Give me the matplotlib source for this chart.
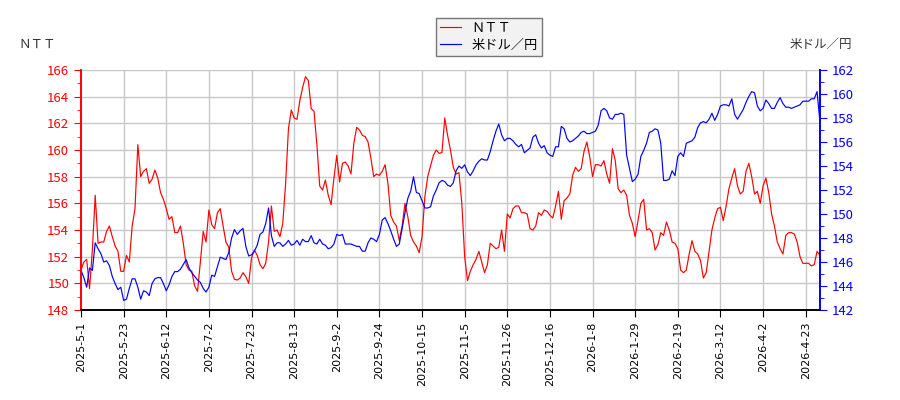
import matplotlib
matplotlib.use('Agg')
import matplotlib.pyplot as plt
from matplotlib.ticker import MultipleLocator

plt.rcParams['font.family'] = ['Noto Sans CJK JP', 'DejaVu Sans']

# daily closes, one per trading day
ntt = [151.0, 151.6, 151.8, 149.6, 152.5, 156.6, 153.0, 153.1, 153.1, 153.9,
       154.3, 153.5, 152.8, 152.4, 150.9, 150.9, 152.1, 151.6, 154.3, 155.6,
       160.4, 158.0, 158.4, 158.6, 157.5, 157.8, 158.5, 157.9, 156.8, 156.3,
       155.6, 154.8, 155.0, 153.8, 153.8, 154.3, 153.0, 151.4, 151.0, 150.9,
       149.8, 149.4, 151.6, 153.9, 153.1, 155.5, 154.4, 154.1, 155.3, 155.6,
       154.3, 153.1, 152.7,
       150.9, 150.3, 150.25, 150.4, 150.8, 150.5, 150.0, 151.9, 152.5, 152.1,
       151.4, 151.1, 151.5, 153.1, 155.8, 153.9, 154.0, 153.5, 154.5, 157.5,
       161.6, 163.0, 162.4, 162.3, 163.7, 164.7, 165.5, 165.2, 163.1, 162.9,
       160.4, 157.3, 157.0, 157.75, 156.6, 155.9, 157.9, 159.6, 157.6, 159.0,
       159.1, 158.8, 158.2, 160.5, 161.7, 161.5, 161.1, 161.0, 160.6, 159.4,
       158.0,
       158.2, 158.1, 158.4, 158.9, 157.5, 155.1, 154.6, 154.3, 153.2, 154.3,
       156.0, 155.0, 153.6, 153.1, 152.8, 152.3, 153.5, 156.5, 158.0, 158.8,
       159.6, 160.0, 159.75, 159.8, 162.4, 161.1, 160.0, 158.7, 158.2, 158.3,
       156.0, 152.0, 150.2, 150.9, 151.4, 151.8, 152.4, 151.6, 150.8, 151.4,
       153.0, 152.8, 152.6, 152.7, 154.0, 152.4, 155.2, 154.9, 155.6, 155.8,
       155.8, 155.3,
       155.3, 155.2, 154.1, 154.0, 154.3, 155.3, 155.1, 155.5, 155.4, 155.1,
       154.9, 155.8, 156.9, 154.8, 156.2, 156.4, 156.7, 158.1, 158.7, 158.4,
       158.6, 159.9, 160.6, 159.5, 158.0, 158.9, 158.9, 158.8, 159.2, 158.2,
       157.5, 160.1, 159.2, 157.1, 156.8, 157.0, 156.6, 155.1, 154.5, 153.5,
       154.7, 156.0, 156.3, 154.0, 154.1, 153.8, 152.5, 152.9, 153.8, 153.6,
       154.6,
       154.0, 153.1, 153.0, 152.6, 151.0, 150.8, 151.0, 152.2, 153.2, 152.4,
       152.2, 151.7, 150.4, 150.8, 152.4, 154.0, 154.9, 155.6, 155.7, 154.7,
       155.8, 157.1, 157.9, 158.6, 157.3, 156.7, 156.9, 158.4, 159.0, 158.0,
       156.7, 156.9, 156.0, 157.3, 157.9, 156.8, 155.2, 154.3, 153.1, 152.6,
       152.2, 153.6, 153.8, 153.8, 153.7, 153.1, 152.0, 151.5, 151.5, 151.5,
       151.3, 151.4, 152.4, 152.1]

usdjpy = [145.3, 144.7, 143.9, 145.5, 145.3, 147.6, 147.1, 146.7, 146.0, 146.1,
          145.7, 144.8, 144.2, 143.7, 143.9, 142.8, 142.9, 143.8, 144.6, 144.6,
          143.9, 142.9, 143.6, 143.5, 143.2, 144.2, 144.6, 144.7, 144.7, 144.2,
          143.6, 144.1, 144.8, 145.2, 145.2, 145.4, 145.8, 146.2, 145.5, 145.1,
          144.8, 144.5, 144.3, 143.8, 143.5, 143.9, 144.9, 144.8, 145.6, 146.4,
          146.3, 146.2, 146.8,
          148.0, 148.7, 148.3, 148.6, 148.8, 147.3, 146.5, 146.6, 146.9, 147.4,
          148.3, 148.5, 149.2, 150.5, 148.2, 147.3, 147.6, 147.6, 147.3, 147.5,
          147.8, 147.4, 147.5, 147.8, 147.4, 147.9, 147.7, 147.7, 148.2, 147.6,
          147.5, 147.9, 147.5, 147.4, 147.1, 147.2, 147.5, 148.3, 148.2, 148.3,
          147.5, 147.5, 147.5, 147.4, 147.3, 147.3, 146.9, 146.9, 147.6, 148.0,
          147.9,
          147.7, 148.3, 149.5, 149.7, 149.2, 148.6, 147.9, 147.3, 147.5, 148.8,
          150.1, 151.3, 151.9, 153.1, 151.8, 151.7, 151.1, 150.5, 150.5, 150.6,
          151.5, 152.0, 152.6, 152.8, 152.7, 152.4, 152.3, 152.6, 153.6, 154.0,
          153.8, 154.1, 153.5, 153.2, 153.6, 154.1, 154.4, 154.6, 154.5, 154.5,
          155.2, 156.1, 156.9, 157.5, 156.6, 156.1, 156.3, 156.3, 156.1, 155.8,
          155.6, 155.8,
          155.1, 155.3, 155.5, 156.4, 156.6, 155.9, 155.5, 155.7, 155.1, 154.9,
          154.8, 155.6, 155.6, 157.3, 157.1, 156.3, 156.0, 156.1, 156.3, 156.5,
          156.8, 156.9, 156.7, 156.7, 156.8, 156.9, 157.4, 158.6, 158.8, 158.6,
          158.0, 157.9, 158.3, 158.3, 158.4, 158.3, 154.9, 153.8, 152.7, 152.9,
          153.3, 154.8, 155.3, 155.9, 156.8, 156.9, 157.1, 157.0, 155.9, 152.8,
          152.8,
          152.9, 153.6, 153.2, 154.8, 155.1, 154.8, 155.9, 156.0, 156.1, 156.4,
          157.2, 157.6, 157.7, 157.6, 157.9, 158.4, 157.8, 158.3, 159.0, 159.1,
          159.1, 159.0, 159.6, 158.3, 157.9, 158.3, 158.7, 159.3, 159.8, 160.2,
          160.1, 159.0, 158.6, 158.8, 159.5, 159.2, 158.8, 158.8, 159.3, 159.7,
          159.2, 158.9, 158.9, 158.8, 158.9, 159.0, 159.1, 159.4, 159.4, 159.4,
          159.6, 159.6, 160.2, 157.7]

date_labels = ['2025-5-1', '2025-5-23', '2025-6-12', '2025-7-2', '2025-7-23',
               '2025-8-13', '2025-9-2', '2025-9-24', '2025-10-15', '2025-11-5',
               '2025-11-26', '2025-12-16', '2026-1-8', '2026-1-29', '2026-2-19',
               '2026-3-12', '2026-4-2', '2026-4-23']
tick_step = 15  # trading days between labels

x = list(range(len(ntt)))

fig = plt.figure(figsize=(9, 4), dpi=100)
ax = fig.add_axes([0.09, 0.225, 0.821, 0.6])
ax2 = ax.twinx()

l1, = ax.plot(x, ntt, color='red', lw=0.85)
l2, = ax2.plot(x, usdjpy, color='blue', lw=0.85)

ax.set_xlim(0, len(ntt) - 1)
ax.set_ylim(148, 166)
ax2.set_ylim(142, 162)
ax.yaxis.set_major_locator(MultipleLocator(2))
ax.yaxis.set_minor_locator(MultipleLocator(1))
ax2.yaxis.set_major_locator(MultipleLocator(2))
ax2.yaxis.set_minor_locator(MultipleLocator(1))

ax.set_xticks([i * tick_step for i in range(len(date_labels))])
ax.set_xticklabels(date_labels, rotation=90, fontsize=8, family='DejaVu Sans')

ax.grid(True, color='#c8c8c8', lw=1)
ax.set_axisbelow(True)

ax.tick_params(axis='y', colors='red', labelsize=9.5, length=5)
ax.tick_params(axis='y', which='minor', colors='red', length=3)
ax2.tick_params(axis='y', colors='blue', labelsize=9.5, length=5)
ax2.tick_params(axis='y', which='minor', colors='blue', length=3)
ax.tick_params(axis='x', length=5)

for a in (ax, ax2):
    a.spines['top'].set_visible(False)
    a.spines['left'].set_color('red')
    a.spines['right'].set_color('blue')
    a.spines['left'].set_linewidth(1.2)
    a.spines['right'].set_linewidth(1.2)
    a.spines['bottom'].set_linewidth(1.2)

fig.text(0.041, 0.89, 'ＮＴＴ', fontsize=9, color='#333333', ha='center', va='center')
fig.text(0.912, 0.89, '米ドル／円', fontsize=9, color='#333333', ha='center', va='center')

leg = fig.legend([l1, l2], ['ＮＴＴ', '米ドル／円'], loc='upper center',
                 bbox_to_anchor=(0.543, 0.972), fontsize=9.5, fancybox=False,
                 edgecolor='#777777', facecolor='#f2f2f2', framealpha=1,
                 handlelength=1.6, borderpad=0.3, labelspacing=0.3)
leg.get_frame().set_linewidth(1)

fig.savefig('out.png', dpi=100)
